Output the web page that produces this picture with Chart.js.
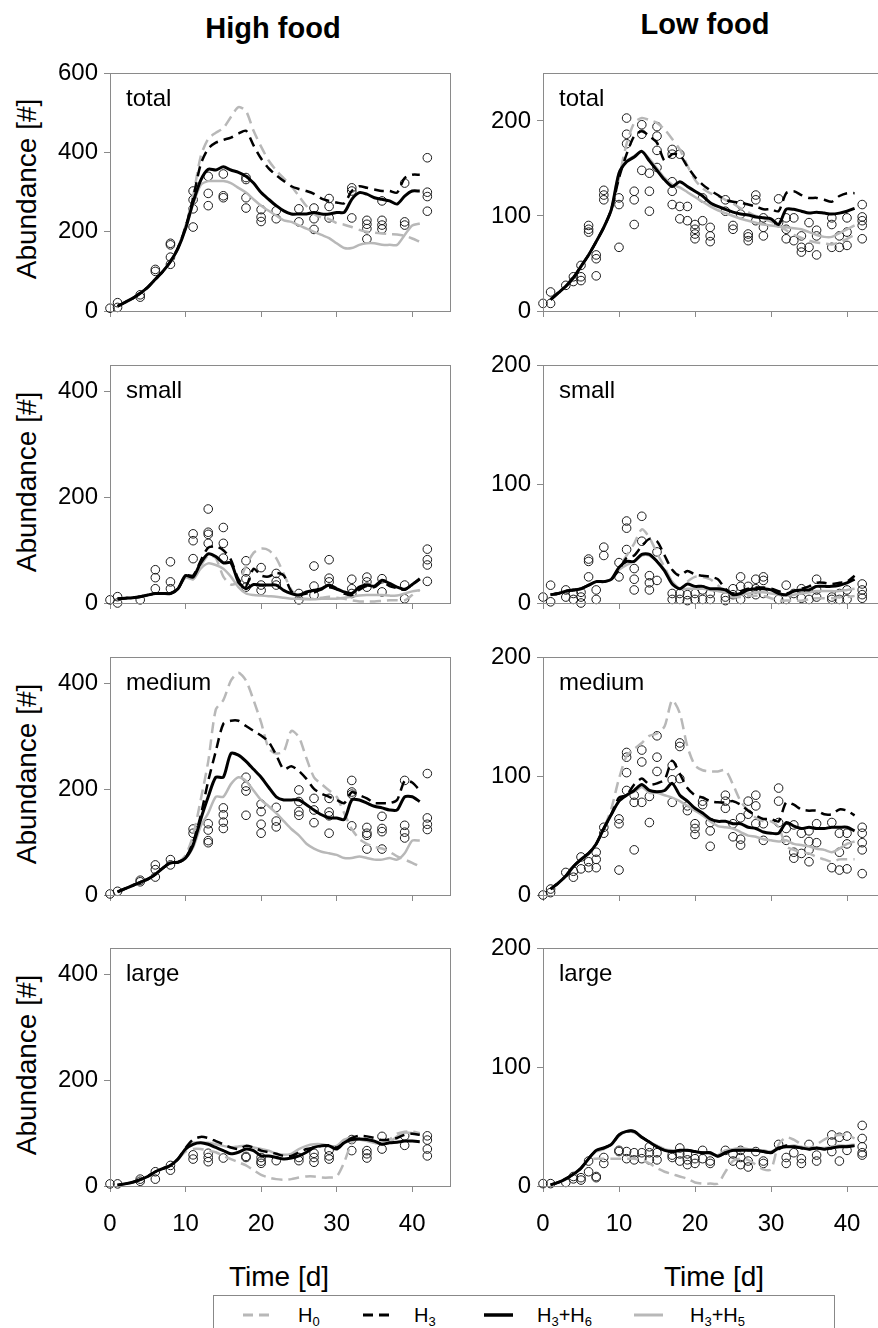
<!DOCTYPE html>
<html>
<head>
<meta charset="utf-8">
<script src="https://cdn.jsdelivr.net/npm/chart.js@4.4.0/dist/chart.umd.min.js"></script>
<style>
  body { margin: 0; width: 878px; height: 1328px; overflow: hidden; background: #fff; position: relative;
         font-family: 'Liberation Sans', Arial, sans-serif; color: #000; }
  canvas { position: absolute; }
  .head { position: absolute; font-weight: bold; font-size: 29px; width: 240px; text-align: center; line-height: 1; }
  .ytitle { position: absolute; font-size: 28px; white-space: nowrap; line-height: 1;
            transform: translate(-50%, -50%) rotate(-90deg); }
  .xtitle { position: absolute; font-size: 28px; width: 200px; text-align: center; line-height: 1; }
  .plabel { position: absolute; font-size: 24px; line-height: 1; }
  #legend { position: absolute; left: 213px; top: 1295px; width: 620px; height: 60px; border: 1px solid #888; }
  #legend span { position: absolute; top: 9px; font-size: 20px; line-height: 1; }
  #legend sub { font-size: 13px; vertical-align: -4px; line-height: 0; }
</style>
</head>
<body>

<div class="head" style="left:153px; top:14px;">High food</div>
<div class="head" style="left:585px; top:10px;">Low food</div>

<div class="ytitle" style="left:27px; top:189px;">Abundance [#]</div>
<div class="ytitle" style="left:27px; top:482px;">Abundance [#]</div>
<div class="ytitle" style="left:27px; top:774px;">Abundance [#]</div>
<div class="ytitle" style="left:27px; top:1065px;">Abundance [#]</div>

<div class="xtitle" style="left:179px; top:1263px;">Time [d]</div>
<div class="xtitle" style="left:614px; top:1263px;">Time [d]</div>

<div id="legend">
  <svg width="620" height="40" style="position:absolute;left:0;top:0">
    <line x1="29" y1="19" x2="57" y2="19" stroke="#b8b8b8" stroke-width="3" stroke-dasharray="10,6"/>
    <line x1="149" y1="19" x2="177" y2="19" stroke="#000" stroke-width="3" stroke-dasharray="10,6"/>
    <line x1="270" y1="19" x2="299" y2="19" stroke="#000" stroke-width="3.5"/>
    <line x1="420" y1="19" x2="449" y2="19" stroke="#b8b8b8" stroke-width="3"/>
  </svg>
  <span style="left:84px">H<sub>0</sub></span>
  <span style="left:200px">H<sub>3</sub></span>
  <span style="left:323px">H<sub>3</sub>+H<sub>6</sub></span>
  <span style="left:476px">H<sub>3</sub>+H<sub>5</sub></span>
</div>

<script>
// model output days
const LINE_DAYS = [1,2,3,4,5,6,7,8,9,10,11,12,13,14,15,16,17,18,19,20,21,22,23,24,25,26,27,28,29,30,31,32,33,34,35,36,37,38,39,40,41];

// ---- High food ----
const HF_TOTAL_H0   = [12,22,32,45,60,80,100,125,160,215, 290,390,435,450,462,490,515,505,455,415, 380,355,335,315,290,265,245,236,232,222, 218,212,205,200,198,196,194,193,190,183, 175];
const HF_TOTAL_H3   = [12,22,32,45,60,80,100,125,160,212, 285,370,410,425,432,438,448,455,418,385, 360,343,328,315,308,303,296,284,278,274, 272,303,315,311,307,303,303,299,336,344, 344];
const HF_TOTAL_H3H6 = [12,22,32,45,60,80,100,125,158,208, 275,330,358,356,364,356,350,340,323,299, 282,266,253,245,245,245,249,245,245,249, 249,282,299,295,286,282,278,270,290,303, 303];
const HF_TOTAL_H3H5 = [12,22,32,45,60,80,100,125,158,208, 270,318,328,328,328,323,311,299,282,266, 253,241,229,225,216,208,200,192,184,171, 159,159,167,171,171,167,167,167,192,216, 221];
const HF_TOTAL_OBS = [[0,7],[1,21,9],[4,41,35],[6,105,100],[8,171,167,136,118],[11,303,281,258,212],[13,340,297,266],
  [15,346,291,286],[18,337,332,286,260],[20,256,237,226],[22,253,233],[25,258,225],[27,260,233,206],[29,284,264,235],
  [32,311,303,235],[34,229,219,208,182],[36,278,229,217,207],[39,323,225,217],[42,387,300,289,252]];

const HF_SMALL_H0   = [8,9,10,12,15,18,18,18,27,52, 45,70,90,85,50,35,40,70,95,103, 100,85,55,25,10,8,8,10,12,10, 8,5,3,3,3,4,5,5,5,15, 25];
const HF_SMALL_H3   = [8,9,10,12,15,18,18,18,27,52, 52,80,105,107,100,82,45,32,65,52, 50,57,52,22,15,18,20,26,30,26, 18,15,25,32,30,40,32,28,25,35, 45];
const HF_SMALL_H3H6 = [8,9,10,12,15,18,18,18,27,52, 49,76,93,88,76,76,40,27,35,34, 34,34,24,18,15,21,24,27,34,27, 21,18,30,34,32,43,37,30,26,35, 46];
const HF_SMALL_H3H5 = [8,9,10,12,15,18,18,18,27,48, 45,65,75,72,65,50,30,18,15,14, 13,12,10,8,8,7,7,8,8,8, 10,12,14,15,15,15,14,14,18,22, 24];
const HF_SMALL_OBS = [[0,6],[1,12,0],[4,6],[6,63,48,27],[8,78,40,27],[11,131,118,84],[13,178,134,130,113],[15,143,113,85],
  [18,80,59,46,30],[20,67,34,24],[22,56,41,34],[25,18,6],[27,70,32,15],[29,82,47,40],[32,45,27,18],[34,49,40,30],
  [36,46,21],[39,34,8],[42,102,82,72,41]];

const HF_MEDIUM_H0   = [6,12,18,24,30,39,51,61,62,75, 113,180,253,351,369,406,421,406,369,327, 278,268,272,311,299,259,223,210,198,186, 155,125,106,97,91,88,82,73,67,61, 54];
const HF_MEDIUM_H3   = [6,12,18,24,30,39,51,61,62,70, 100,150,216,272,324,330,330,320,311,302, 290,265,238,244,235,220,201,192,186,180, 174,195,189,183,174,174,174,180,216,213, 198];
const HF_MEDIUM_H3H6 = [6,12,18,24,30,39,51,61,62,70, 95,143,186,223,223,268,265,253,238,223, 204,186,180,180,180,171,161,152,146,146, 143,180,180,174,168,165,161,161,186,186, 177];
const HF_MEDIUM_H3H5 = [6,12,18,24,30,39,51,61,62,70, 90,130,155,186,186,210,223,216,198,180, 168,155,140,125,113,97,88,82,79,76, 70,70,73,70,67,67,70,67,79,103, 103];
const HF_MEDIUM_OBS = [[0,2],[1,7],[4,28,25],[6,57,48,34],[8,67,57],[11,125,117],[13,135,123,103,99],[15,165,152,138,126],
  [18,223,206,197,151],[20,172,158,134,117],[22,166,140,129],[25,199,177,158,151],[27,183,161,137],[29,183,157,150,117],
  [32,217,195,191,131],[34,128,117,113,87],[36,149,126,120,87],[39,217,132,119,108],[42,230,146,134,124]];

const HF_LARGE_H0   = [2,4,7,12,18,27,33,39,51,65, 70,70,67,64,57,51,45,39,30,21, 16,13,12,13,16,18,18,16,16,18, 45,82,91,88,82,82,88,99,103,103, 100];
const HF_LARGE_H3   = [2,4,7,12,18,27,33,39,51,72, 88,93,91,85,79,73,70,76,73,67, 64,61,57,57,64,70,73,76,77,73, 82,91,95,94,91,87,88,91,97,99, 97];
const HF_LARGE_H3H6 = [2,4,7,12,18,27,33,39,51,70, 79,82,79,73,67,61,64,70,67,57, 57,54,51,53,57,64,73,76,76,70, 82,88,89,88,85,79,82,83,85,85, 84];
const HF_LARGE_H3H5 = [2,4,7,12,18,27,33,39,51,68, 82,82,82,79,76,73,75,76,73,70, 67,61,59,61,70,76,79,79,76,76, 88,91,88,85,82,79,82,94,101,100, 97];
const HF_LARGE_OBS = [[0,4],[1,4],[4,13,9],[6,27,13],[8,39,30],[11,59,51],[13,62,54,46],[15,53],[18,56,54],[20,54,47,43],
  [22,48],[25,54,48],[27,62,54,45],[29,68,57,51],[32,88,67],[34,67,61,53],[36,94,70],[39,95,77],[42,95,87,70,57]];

// ---- Low food ----
const LF_TOTAL_H0   = [12,19,26,35,47,59,73,88,107, 140,176,198,203,201,198,191,181,170,153, 138,129,124,121,117,113,108,104,100,97, 94,90,85,80,77,74,72,71,70,72, 76,80];
const LF_TOTAL_H3   = [12,19,26,35,47,59,73,88,107, 140,165,184,189,184,177,158,165,164,152, 141,133,127,122,117,115,114,112,110,107, 107,105,124,126,122,119,119,117,115,121, 124,124];
const LF_TOTAL_H3H6 = [12,19,26,35,47,59,73,88,107, 145,157,162,168,158,148,138,131,136,131, 126,121,114,110,107,104,102,101,99,98, 97,91,107,107,105,103,104,103,102,103, 105,108];
const LF_TOTAL_H3H5 = [12,19,26,35,47,59,73,88,107, 145,158,163,168,160,150,140,133,130,125, 120,115,110,106,103,100,97,95,93,91, 90,89,88,87,86,83,80,78,78,82, 86,90];
const LF_TOTAL_OBS = [[0,8],[1,20,8],[3,27],[4,36,31],[5,48,36,32],[6,90,86,83],[7,59,55,37],[8,127,122,117],[10,119,112,67],
  [11,203,186,176],[12,126,117,91],[13,196,186,148],[14,145,126,105],[15,194,184,169,151],[17,170,165,136,126,112],
  [18,165,110,97],[19,110,95],[20,91,86,81,76],[21,119,95],[22,88,79,73],[24,117,105],[25,90,86],[26,112,102],
  [27,81,78,74],[28,122,117,95],[29,98,88,79],[31,118,93],[32,98,86,76],[33,98,74],[34,79,67,62],[35,93,67],
  [36,85,79,59],[38,98,91,67],[39,79,67],[40,98,83,69],[42,112,99,95,90,76]];

const LF_SMALL_H0   = [7,8,10,11,12,15,18,18,20, 30,40,50,62,55,42,30,18,12,18, 22,22,20,15,8,5,5,6,6,6, 4,2,2,2,2,3,4,4,4,5, 5,6];
const LF_SMALL_H3   = [7,8,10,11,12,15,18,18,20, 28,38,40,48,54,52,40,28,23,27, 24,23,22,20,12,8,10,12,13,13, 12,10,8,10,12,14,17,17,16,17, 18,23];
const LF_SMALL_H3H6 = [7,8,10,11,12,15,18,18,20, 30,35,35,41,41,35,27,16,12,16, 14,14,12,12,11,7,8,11,12,12, 11,8,7,10,11,11,14,14,14,15, 17,20];
const LF_SMALL_H3H5 = [7,8,10,11,12,15,18,18,20, 28,32,35,40,40,35,28,18,12,12, 12,12,11,10,9,7,7,8,9,9, 8,7,6,7,8,9,10,10,10,10, 11,12];
const LF_SMALL_OBS = [[0,5],[1,15,1],[3,11,5],[4,8,3],[5,9,5,0],[6,37,35,22],[7,11,3],[8,47,40],[10,34,22],[11,69,63,45],
  [12,29,20,11],[13,73,52],[14,23,17,11],[15,43,19],[17,8,3],[18,8,3],[19,7,2],[20,8,3],[21,11,3],[22,8,3],[24,5,2],
  [25,12,7],[26,22,14,3],[27,14,8],[28,20,12,7],[29,22,19,8],[31,3],[32,15,3],[33,8],[34,12,4],[35,3],[36,20,11,5],
  [38,5,3],[39,8,3],[40,11,3],[42,16,11,7,4]];

const LF_MEDIUM_H0   = [5,10,16,24,30,35,43,56,73, 98,117,123,128,134,136,142,164,153,125, 109,105,104,104,105,93,79,71,65,62, 62,57,41,38,36,35,32,30,28,30, 30,30];
const LF_MEDIUM_H3   = [5,10,16,24,30,35,43,56,68, 82,84,93,98,93,94,97,113,102,90, 84,82,79,78,78,79,76,71,67,64, 64,62,78,76,72,71,71,68,68,72, 71,67];
const LF_MEDIUM_H3H6 = [5,10,16,24,30,35,43,56,68, 79,84,88,93,88,87,88,94,84,79, 73,69,64,62,62,60,60,57,56,53, 52,52,61,58,56,57,56,56,57,57, 57,54];
const LF_MEDIUM_H3H5 = [5,10,16,24,30,35,43,56,68, 79,84,87,91,86,86,84,82,79,75, 71,67,62,58,57,56,53,50,49,47, 46,45,46,43,42,41,39,38,36,39, 43,45];
const LF_MEDIUM_OBS = [[0,0],[1,5,2],[3,19],[4,20,15],[5,32,22],[6,28,23],[7,36,30,23],[8,57,52],[10,64,60,21],
  [11,120,116,103,88],[12,84,78,38],[13,122,112,78],[14,83,61],[15,134,116,104],[17,109,97,78],[18,128,125,98],
  [19,75,71],[20,60,56,51],[21,79,76],[22,61,54,41],[24,84,79,73],[25,60,49],[26,65,47,42],[27,79,68],[28,84,75,60],
  [29,60,46],[31,90,79,61],[32,56,46],[33,59,36,31],[34,52,35],[35,54,45,38,28],[36,60,44],[38,61,23],[39,52,36,21],
  [40,52,43,22],[42,57,52,44,38,18]];

const LF_LARGE_H0   = [1,3,6,10,15,22, 23,23,23,23,23,23,22,19,15,12, 10,8,6,3,2,2,2,12,21,23, 22,18,14,14,35,41,39,35,32,35, 39,42,43,43,40];
const LF_LARGE_H3   = [1,3,6,10,15,23, 30,32,35,43,46,46,41,37,33,30, 29,30,30,29,28,28,25,28,30,30, 30,30,29,28,31,34,33,32,31,32, 31,32,33,33,34];
const LF_LARGE_H3H6 = [1,3,6,10,15,23, 30,32,35,43,46,46,41,37,33,30, 29,30,30,29,28,28,25,28,30,30, 30,30,29,28,32,33,33,32,31,32, 31,32,33,33,34];
const LF_LARGE_H3H5 = [1,3,6,10,15,23, 29,31,35,42,46,45,41,37,34,31, 30,30,30,29,28,27,26,30,31,32, 31,30,30,29,32,33,34,33,32,32, 32,33,34,34,35];
const LF_LARGE_OBS = [[0,2],[1,2],[3,3],[4,8,6],[5,7,5],[6,21,12],[7,8,7],[8,24,19],[10,30,29],[11,29,23],[12,28,22],
  [13,28,23],[14,33,28,22],[15,28,22],[17,26,24],[18,32,27,21],[19,27,22,18],[20,23,19],[21,30,23],[22,21,19],[24,30],
  [25,27,21],[26,30,24,18],[27,21,16],[28,29],[29,21,19],[31,35],[32,24,19],[33,28],[34,23,19],[35,35],[36,26,21],
  [38,43,37,29],[39,41,21],[40,42,30],[42,51,40,33,28,26]];

const X_TICKS = [0, 10, 20, 30, 40];
const FONT = "'Liberation Sans', Arial, sans-serif";
const GREY = '#b8b8b8';
const FRAME = '#8a8a8a';

// plot areas (page px)
const COL_LEFT = [110, 543];
const COL_WIDTH = [340, 342];
const ROW_TOP = [68, 360, 652, 943];
const PLOT_H = 243;

const PANELS = [
  { col: 0, row: 0, label: 'total',  max: 600, step: 200, sets: [HF_TOTAL_H0, HF_TOTAL_H3, HF_TOTAL_H3H6, HF_TOTAL_H3H5], obs: HF_TOTAL_OBS },
  { col: 0, row: 1, label: 'small',  max: 450, step: 200, sets: [HF_SMALL_H0, HF_SMALL_H3, HF_SMALL_H3H6, HF_SMALL_H3H5], obs: HF_SMALL_OBS },
  { col: 0, row: 2, label: 'medium', max: 450, step: 200, sets: [HF_MEDIUM_H0, HF_MEDIUM_H3, HF_MEDIUM_H3H6, HF_MEDIUM_H3H5], obs: HF_MEDIUM_OBS },
  { col: 0, row: 3, label: 'large',  max: 450, step: 200, sets: [HF_LARGE_H0, HF_LARGE_H3, HF_LARGE_H3H6, HF_LARGE_H3H5], obs: HF_LARGE_OBS },
  { col: 1, row: 0, label: 'total',  max: 250, step: 100, sets: [LF_TOTAL_H0, LF_TOTAL_H3, LF_TOTAL_H3H6, LF_TOTAL_H3H5], obs: LF_TOTAL_OBS },
  { col: 1, row: 1, label: 'small',  max: 200, step: 100, sets: [LF_SMALL_H0, LF_SMALL_H3, LF_SMALL_H3H6, LF_SMALL_H3H5], obs: LF_SMALL_OBS },
  { col: 1, row: 2, label: 'medium', max: 200, step: 100, sets: [LF_MEDIUM_H0, LF_MEDIUM_H3, LF_MEDIUM_H3H6, LF_MEDIUM_H3H5], obs: LF_MEDIUM_OBS },
  { col: 1, row: 3, label: 'large',  max: 200, step: 100, sets: [LF_LARGE_H0, LF_LARGE_H3, LF_LARGE_H3H6, LF_LARGE_H3H5], obs: LF_LARGE_OBS }
];

// H0, H3, H3+H6, H3+H5
const LINE_STYLES = [
  { borderColor: GREY,   borderWidth: 2.5, borderDash: [11, 6], order: 3 },
  { borderColor: '#000', borderWidth: 2.5, borderDash: [10, 6], order: 2 },
  { borderColor: '#000', borderWidth: 3,   borderDash: [],      order: 1 },
  { borderColor: GREY,   borderWidth: 2.5, borderDash: [],      order: 4 }
];

// frame around the plot area
const framePlugin = {
  id: 'frame',
  afterDraw(chart) {
    const { ctx, chartArea: a } = chart;
    ctx.save();
    ctx.strokeStyle = FRAME;
    ctx.lineWidth = 1;
    ctx.strokeRect(Math.round(a.left) + 0.5, Math.round(a.top) + 0.5, Math.round(a.right - a.left), Math.round(a.bottom - a.top));
    ctx.restore();
  }
};

const PAD_L = 100, PAD_T = 15, PAD_R = 12, PAD_B = 60;

function renderPanel(p) {
  const left = COL_LEFT[p.col], top = ROW_TOP[p.row], w = COL_WIDTH[p.col];
  const isBottom = p.row === 3;

  const canvas = document.createElement('canvas');
  canvas.width = PAD_L + w + PAD_R;
  canvas.height = PAD_T + PLOT_H + PAD_B;
  canvas.style.left = (left - PAD_L) + 'px';
  canvas.style.top = (top - PAD_T) + 'px';
  document.body.appendChild(canvas);

  const label = document.createElement('div');
  label.className = 'plabel';
  label.textContent = p.label;
  label.style.left = (left + 16) + 'px';
  label.style.top = (top + 18) + 'px';
  document.body.appendChild(label);

  const datasets = p.sets.map((vals, i) => Object.assign({
    type: 'line',
    data: LINE_DAYS.map((d, k) => ({ x: d, y: vals[k] })),
    pointRadius: 0,
    tension: 0.25,
    fill: false
  }, LINE_STYLES[i]));

  const pts = [];
  p.obs.forEach(r => r.slice(1).forEach(v => pts.push({ x: r[0], y: v })));
  datasets.push({
    type: 'scatter',
    data: pts,
    pointRadius: 4.3,
    pointBorderWidth: 1,
    pointBorderColor: '#1a1a1a',
    pointBackgroundColor: 'rgba(255,255,255,0)',
    clip: false,
    order: 10
  });

  new Chart(canvas, {
    type: 'scatter',
    data: { datasets },
    plugins: [framePlugin],
    options: {
      responsive: false,
      animation: false,
      devicePixelRatio: 1,
      layout: { padding: { top: PAD_T, right: PAD_R, left: 0, bottom: 0 } },
      plugins: { legend: { display: false }, tooltip: { enabled: false } },
      scales: {
        x: {
          type: 'linear', min: 0, max: 45,
          afterBuildTicks: s => { s.ticks = X_TICKS.map(v => ({ value: v })); },
          afterFit: s => { s.height = PAD_B; },
          ticks: { display: isBottom, font: { family: FONT, size: 24, lineHeight: 1.9 }, color: '#000', padding: 10, maxRotation: 0 },
          grid: { drawOnChartArea: false, tickLength: 6, color: FRAME },
          border: { color: FRAME }
        },
        y: {
          min: 0, max: p.max,
          afterBuildTicks: s => { s.ticks = s.ticks.filter(t => t.value % p.step === 0); },
          afterFit: s => { s.width = PAD_L; },
          ticks: { stepSize: p.step, font: { family: FONT, size: 24 }, color: '#000', padding: 6 },
          grid: { drawOnChartArea: false, tickLength: 6, color: FRAME },
          border: { color: FRAME }
        }
      }
    }
  });
}

PANELS.forEach(renderPanel);
</script>
</body>
</html>
